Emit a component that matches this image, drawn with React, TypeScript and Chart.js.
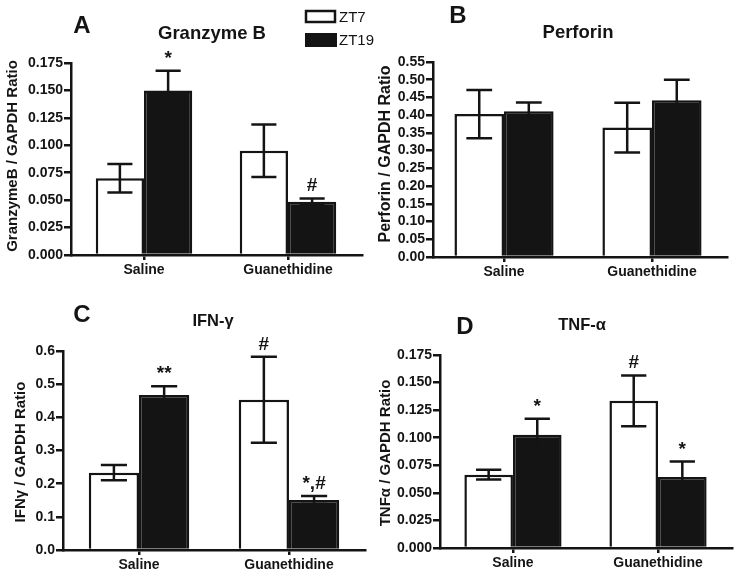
import React, { useEffect, useRef } from 'react';
import { Chart, registerables } from 'chart.js';

Chart.register(...registerables);

const FONT = "'Liberation Sans', Arial, sans-serif";
const INK = '#141414';

const categories = ['Saline', 'Guanethidine'];
const seriesNames = ['ZT7', 'ZT19'];

// Panel A – Granzyme B
const granzymeZT7 = [0.070, 0.095];
const granzymeZT7Err = [0.013, 0.024];
const granzymeZT19 = [0.150, 0.0485];
const granzymeZT19Err = [0.018, 0.003];
const granzymeZT7Marks = ['', ''];
const granzymeZT19Marks = ['*', '#'];
const granzymeTicks = ['0.000', '0.025', '0.050', '0.075', '0.100', '0.125', '0.150', '0.175'];

// Panel B – Perforin
const perforinZT7 = [0.403, 0.365];
const perforinZT7Err = [0.068, 0.070];
const perforinZT19 = [0.411, 0.442];
const perforinZT19Err = [0.025, 0.058];
const perforinZT7Marks = ['', ''];
const perforinZT19Marks = ['', ''];
const perforinTicks = ['0.00', '0.05', '0.10', '0.15', '0.20', '0.25', '0.30', '0.35', '0.40', '0.45', '0.50', '0.55'];

// Panel C – IFN-γ
const ifnZT7 = [0.233, 0.453];
const ifnZT7Err = [0.023, 0.130];
const ifnZT19 = [0.467, 0.151];
const ifnZT19Err = [0.027, 0.012];
const ifnZT7Marks = ['', '#'];
const ifnZT19Marks = ['**', '*,#'];
const ifnTicks = ['0.0', '0.1', '0.2', '0.3', '0.4', '0.5', '0.6'];

// Panel D – TNF-α
const tnfZT7 = [0.0665, 0.1335];
const tnfZT7Err = [0.0045, 0.023];
const tnfZT19 = [0.1028, 0.0644];
const tnfZT19Err = [0.0145, 0.014];
const tnfZT7Marks = ['', '#'];
const tnfZT19Marks = ['*', '*'];
const tnfTicks = ['0.000', '0.025', '0.050', '0.075', '0.100', '0.125', '0.150', '0.175'];

type Panel = {
  letter: string;
  title: string;
  yLabel: string;
  zt7: number[]; zt7Err: number[]; zt19: number[]; zt19Err: number[];
  zt7Marks: string[]; zt19Marks: string[];
  ticks: string[];
  area: { left: number; right: number; top: number; bottom: number };
  xRange: [number, number];
  letterPos: [number, number];
  titlePos: [number, number];
  titleSize: number;
  yLabelPos: [number, number];
  yLabelSize: number;
  legend?: boolean;
};

const panels: Panel[] = [
  {
    letter: 'A', title: 'Granzyme B', yLabel: 'GranzymeB / GAPDH Ratio',
    zt7: granzymeZT7, zt7Err: granzymeZT7Err, zt19: granzymeZT19, zt19Err: granzymeZT19Err,
    zt7Marks: granzymeZT7Marks, zt19Marks: granzymeZT19Marks, ticks: granzymeTicks,
    area: { left: 71, right: 362, top: 63, bottom: 255 }, xRange: [-0.507, 1.514],
    letterPos: [82, 26], titlePos: [212, 34], titleSize: 18.5, yLabelPos: [13, 156], yLabelSize: 15,
    legend: true,
  },
  {
    letter: 'B', title: 'Perforin', yLabel: 'Perforin / GAPDH Ratio',
    zt7: perforinZT7, zt7Err: perforinZT7Err, zt19: perforinZT19, zt19Err: perforinZT19Err,
    zt7Marks: perforinZT7Marks, zt19Marks: perforinZT19Marks, ticks: perforinTicks,
    area: { left: 433, right: 727, top: 62, bottom: 257 }, xRange: [-0.48, 1.507],
    letterPos: [458, 16], titlePos: [578, 33], titleSize: 18.5, yLabelPos: [386, 154], yLabelSize: 16,
  },
  {
    letter: 'C', title: 'IFN-γ', yLabel: 'IFNγ / GAPDH Ratio',
    zt7: ifnZT7, zt7Err: ifnZT7Err, zt19: ifnZT19, zt19Err: ifnZT19Err,
    zt7Marks: ifnZT7Marks, zt19Marks: ifnZT19Marks, ticks: ifnTicks,
    area: { left: 63, right: 365, top: 351, bottom: 550 }, xRange: [-0.507, 1.507],
    letterPos: [82, 315], titlePos: [213, 321], titleSize: 16.5, yLabelPos: [21, 452], yLabelSize: 15,
  },
  {
    letter: 'D', title: 'TNF-α', yLabel: 'TNFα / GAPDH Ratio',
    zt7: tnfZT7, zt7Err: tnfZT7Err, zt19: tnfZT19, zt19Err: tnfZT19Err,
    zt7Marks: tnfZT7Marks, zt19Marks: tnfZT19Marks, ticks: tnfTicks,
    area: { left: 440, right: 732, top: 355, bottom: 548 }, xRange: [-0.503, 1.51],
    letterPos: [465, 327], titlePos: [582, 325], titleSize: 16.5, yLabelPos: [386, 453], yLabelSize: 15,
  },
];

const W = 741;
const H = 579;
const Y_AXIS_W = 60;
const X_AXIS_H = 30;

function makeChart(canvas: HTMLCanvasElement, p: Panel) {
  const tickVals = p.ticks.map((t) => parseFloat(t));
  const yMax = tickVals[tickVals.length - 1];
  const step = tickVals[1] - tickVals[0];
  const values = [p.zt7, p.zt19];
  const errors = [p.zt7Err, p.zt19Err];
  const marks = [p.zt7Marks, p.zt19Marks];

  const decor = {
    id: 'decor' + p.letter,
    afterDatasetsDraw(chart: any) {
      const ctx = chart.ctx;
      const ys = chart.scales.y;
      ctx.save();
      ctx.strokeStyle = INK;
      ctx.lineWidth = 2.5;
      for (let d = 0; d < 2; d++) {
        const meta = chart.getDatasetMeta(d);
        meta.data.forEach((bar: any, i: number) => {
          const v = values[d][i];
          const e = errors[d][i];
          const yt = ys.getPixelForValue(v + e);
          const yb = ys.getPixelForValue(v - e);
          const cap = bar.width * 0.52;
          ctx.beginPath();
          ctx.moveTo(bar.x, yt);
          ctx.lineTo(bar.x, yb);
          ctx.moveTo(bar.x - cap / 2, yt);
          ctx.lineTo(bar.x + cap / 2, yt);
          ctx.moveTo(bar.x - cap / 2, yb);
          ctx.lineTo(bar.x + cap / 2, yb);
          ctx.stroke();
        });
      }
      ctx.restore();
    },
    afterDraw(chart: any) {
      const ctx = chart.ctx;
      const ys = chart.scales.y;
      ctx.save();
      ctx.fillStyle = INK;
      ctx.font = `bold 19px ${FONT}`;
      ctx.textAlign = 'center';
      ctx.textBaseline = 'alphabetic';
      for (let d = 0; d < 2; d++) {
        const meta = chart.getDatasetMeta(d);
        meta.data.forEach((bar: any, i: number) => {
          const m = marks[d][i];
          if (!m) return;
          const yt = ys.getPixelForValue(values[d][i] + errors[d][i]);
          ctx.fillText(m, bar.x, yt - 7);
        });
      }
      ctx.textBaseline = 'middle';
      ctx.font = `bold 24px ${FONT}`;
      ctx.fillText(p.letter, p.letterPos[0], p.letterPos[1]);
      ctx.font = `bold ${p.titleSize}px ${FONT}`;
      ctx.fillText(p.title, p.titlePos[0], p.titlePos[1]);
      ctx.save();
      ctx.translate(p.yLabelPos[0], p.yLabelPos[1]);
      ctx.rotate(-Math.PI / 2);
      ctx.font = `bold ${p.yLabelSize}px ${FONT}`;
      ctx.fillText(p.yLabel, 0, 0);
      ctx.restore();
      if (p.legend) {
        ctx.lineWidth = 2.5;
        ctx.strokeStyle = INK;
        ctx.fillStyle = '#fff';
        ctx.fillRect(306, 11, 29, 11);
        ctx.strokeRect(306, 11, 29, 11);
        ctx.fillStyle = INK;
        ctx.fillRect(305, 33, 32, 14);
        ctx.font = `15px ${FONT}`;
        ctx.textAlign = 'left';
        ctx.fillText(seriesNames[0], 339, 17.5);
        ctx.fillText(seriesNames[1], 339, 40.5);
      }
      ctx.restore();
    },
  };

  return new Chart(canvas, {
    type: 'bar',
    data: {
      datasets: [
        {
          label: seriesNames[0],
          data: p.zt7.map((v, i) => ({ x: i, y: v })),
          backgroundColor: '#ffffff',
          borderColor: INK,
          borderWidth: 2.5,
        },
        {
          label: seriesNames[1],
          data: p.zt19.map((v, i) => ({ x: i, y: v })),
          backgroundColor: INK,
          borderColor: INK,
          borderWidth: 2.5,
        },
      ],
    },
    options: {
      responsive: false,
      animation: false,
      events: [],
      categoryPercentage: 0.67,
      barPercentage: 1,
      layout: {
        padding: {
          left: p.area.left - Y_AXIS_W,
          top: p.area.top,
          right: W - p.area.right,
          bottom: H - p.area.bottom - X_AXIS_H,
        },
      },
      plugins: {
        legend: { display: false },
        tooltip: { enabled: false },
        title: { display: false },
      },
      scales: {
        x: {
          type: 'linear',
          min: p.xRange[0],
          max: p.xRange[1],
          offset: false,
          bounds: 'data',
          z: 1,
          afterBuildTicks: (s: any) => {
            s.ticks = categories.map((_, i) => ({ value: i }));
          },
          afterFit: (s: any) => {
            s.height = X_AXIS_H;
          },
          ticks: {
            callback: (v: any) => categories[v as number] ?? '',
            color: INK,
            font: { family: FONT, size: 14, weight: 'bold' },
            padding: 2,
            maxRotation: 0,
            autoSkip: false,
          },
          grid: {
            display: true,
            offset: false,
            drawOnChartArea: false,
            drawTicks: true,
            tickLength: 5,
            color: INK,
            lineWidth: 2.5,
          },
          border: { display: true, color: INK, width: 2.5 },
        },
        y: {
          type: 'linear',
          min: 0,
          max: yMax,
          z: 1,
          ticks: {
            stepSize: step,
            callback: (_v: any, i: number) => p.ticks[i] ?? '',
            color: INK,
            font: { family: FONT, size: 14, weight: 'bold' },
            padding: 1,
            autoSkip: false,
          },
          afterBuildTicks: (s: any) => {
            s.ticks = tickVals.map((v) => ({ value: v }));
          },
          afterFit: (s: any) => {
            s.width = Y_AXIS_W;
          },
          grid: {
            display: true,
            drawOnChartArea: false,
            drawTicks: true,
            tickLength: 7,
            color: INK,
            lineWidth: 2.5,
          },
          border: { display: true, color: INK, width: 2.5 },
        },
      },
    } as any,
    plugins: [decor],
  });
}

function PanelCanvas({ panel }: { panel: Panel }) {
  const ref = useRef<HTMLCanvasElement | null>(null);
  useEffect(() => {
    if (!ref.current) return;
    const chart = makeChart(ref.current, panel);
    return () => chart.destroy();
  }, [panel]);
  return (
    <canvas
      ref={ref}
      width={W}
      height={H}
      style={{ position: 'absolute', left: 0, top: 0, width: W, height: H }}
    />
  );
}

export default function App() {
  return (
    <div style={{ position: 'absolute', left: 0, top: 0, width: W, height: H, background: '#fff' }}>
      {panels.map((p) => (
        <PanelCanvas key={p.letter} panel={p} />
      ))}
    </div>
  );
}
